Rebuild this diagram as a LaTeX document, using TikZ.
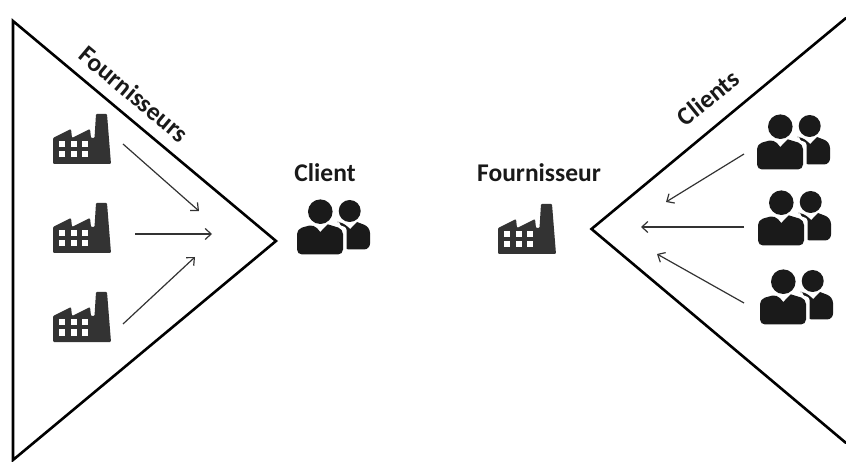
\documentclass[tikz,border=0pt]{standalone}
\usepackage{fontspec}
\setmainfont{Carlito}
\usetikzlibrary{arrows.meta}
\definecolor{fac}{HTML}{333333}
\definecolor{ppl}{HTML}{1A1A1A}
\tikzset{
  x=1pt,y=-1pt,
  wedge/.style={draw=black,line width=2.6pt,line join=miter,line cap=round},
  flow/.style={draw=fac,line width=1.2pt,-{Straight Barb[length=6pt,width=11pt,line width=1.2pt]}},
  lab/.style={font=\fontsize{25.5}{28}\selectfont\bfseries,text=black!90,inner sep=0pt},
  factory/.pic={
    \fill[fac,rounded corners=1pt] (0,50)--(0,24)--(18,15)--(19,24)--(37,15)--(38,24)--(41.5,24)--(43,0)--(54,0)--(58,50)--cycle;
    \foreach \wx in {6,18,29}\foreach \wy in {27.5,37.5}\fill[white] (\wx,\wy) rectangle (\wx+6,\wy+6);
  },
  people/.pic={
    \fill[ppl] (42,22) [rounded corners=5pt] -- (45,22) [sharp corners] -- (53.3,29) -- (60,22) [rounded corners=6pt] -- (73,27) -- (73,49.5) -- (46,49.5) [sharp corners] -- (46,30) -- cycle;
    \path[draw=white,line width=7pt,line join=round] (0,54.3) -- (0,30) -- (16.7,24.3) -- (23.3,31.7) -- (30.7,24.3) -- (46,30) -- (46,54.3) -- cycle;
    \fill[ppl] (23,54.5) [rounded corners=5pt] -- (0,54.5) -- (0,29) -- (16.7,24.3) [sharp corners] -- (23.3,32) -- (30.7,24.3) [rounded corners=5pt] -- (46,29) -- (46,54.5) -- cycle;
    \fill[ppl] (23.3,11.7) circle[radius=12.3];
    \fill[ppl] (52.7,11) circle[radius=11];
  }
}
\begin{document}
\begin{tikzpicture}
\useasboundingbox (0,0) rectangle (846,462);
\coordinate (la) at (13,21);
\coordinate (lb) at (13,460);
\coordinate (lc) at (276,241);
\coordinate (ra) at (846,18);
\coordinate (rb) at (591.5,229);
\coordinate (rc) at (846,443);
\draw[wedge] (lb)--(la)--(lc)--cycle;
\draw[wedge] (ra)--(rb)--(rc);
\pic at (53,114) {factory};
\pic at (53,203) {factory};
\pic at (53,292) {factory};
\pic at (498,204) {factory};
\pic at (297,200) {people};
\pic at (757,115) {people};
\pic at (758,191) {people};
\pic at (760,270) {people};
\node[lab,rotate=-40] (t1) at (134,94) {Fournisseurs};
\node[lab,rotate=39] (t2) at (708,98) {Clients};
\node[lab] (t3) at (325,173) {Client};
\node[lab] (t4) at (539,173) {Fournisseur};
\coordinate (a1s) at (123,144); \coordinate (a1e) at (199,211);
\coordinate (a2s) at (135,234); \coordinate (a2e) at (212,234);
\coordinate (a3s) at (123,324); \coordinate (a3e) at (195,257);
\coordinate (a4s) at (744,154); \coordinate (a4e) at (666,202);
\coordinate (a5s) at (744,227); \coordinate (a5e) at (641,227);
\coordinate (a6s) at (744,303); \coordinate (a6e) at (657,254);
\foreach \n in {1,...,6}\draw[flow] (a\n s)--(a\n e);
\end{tikzpicture}
\end{document}
